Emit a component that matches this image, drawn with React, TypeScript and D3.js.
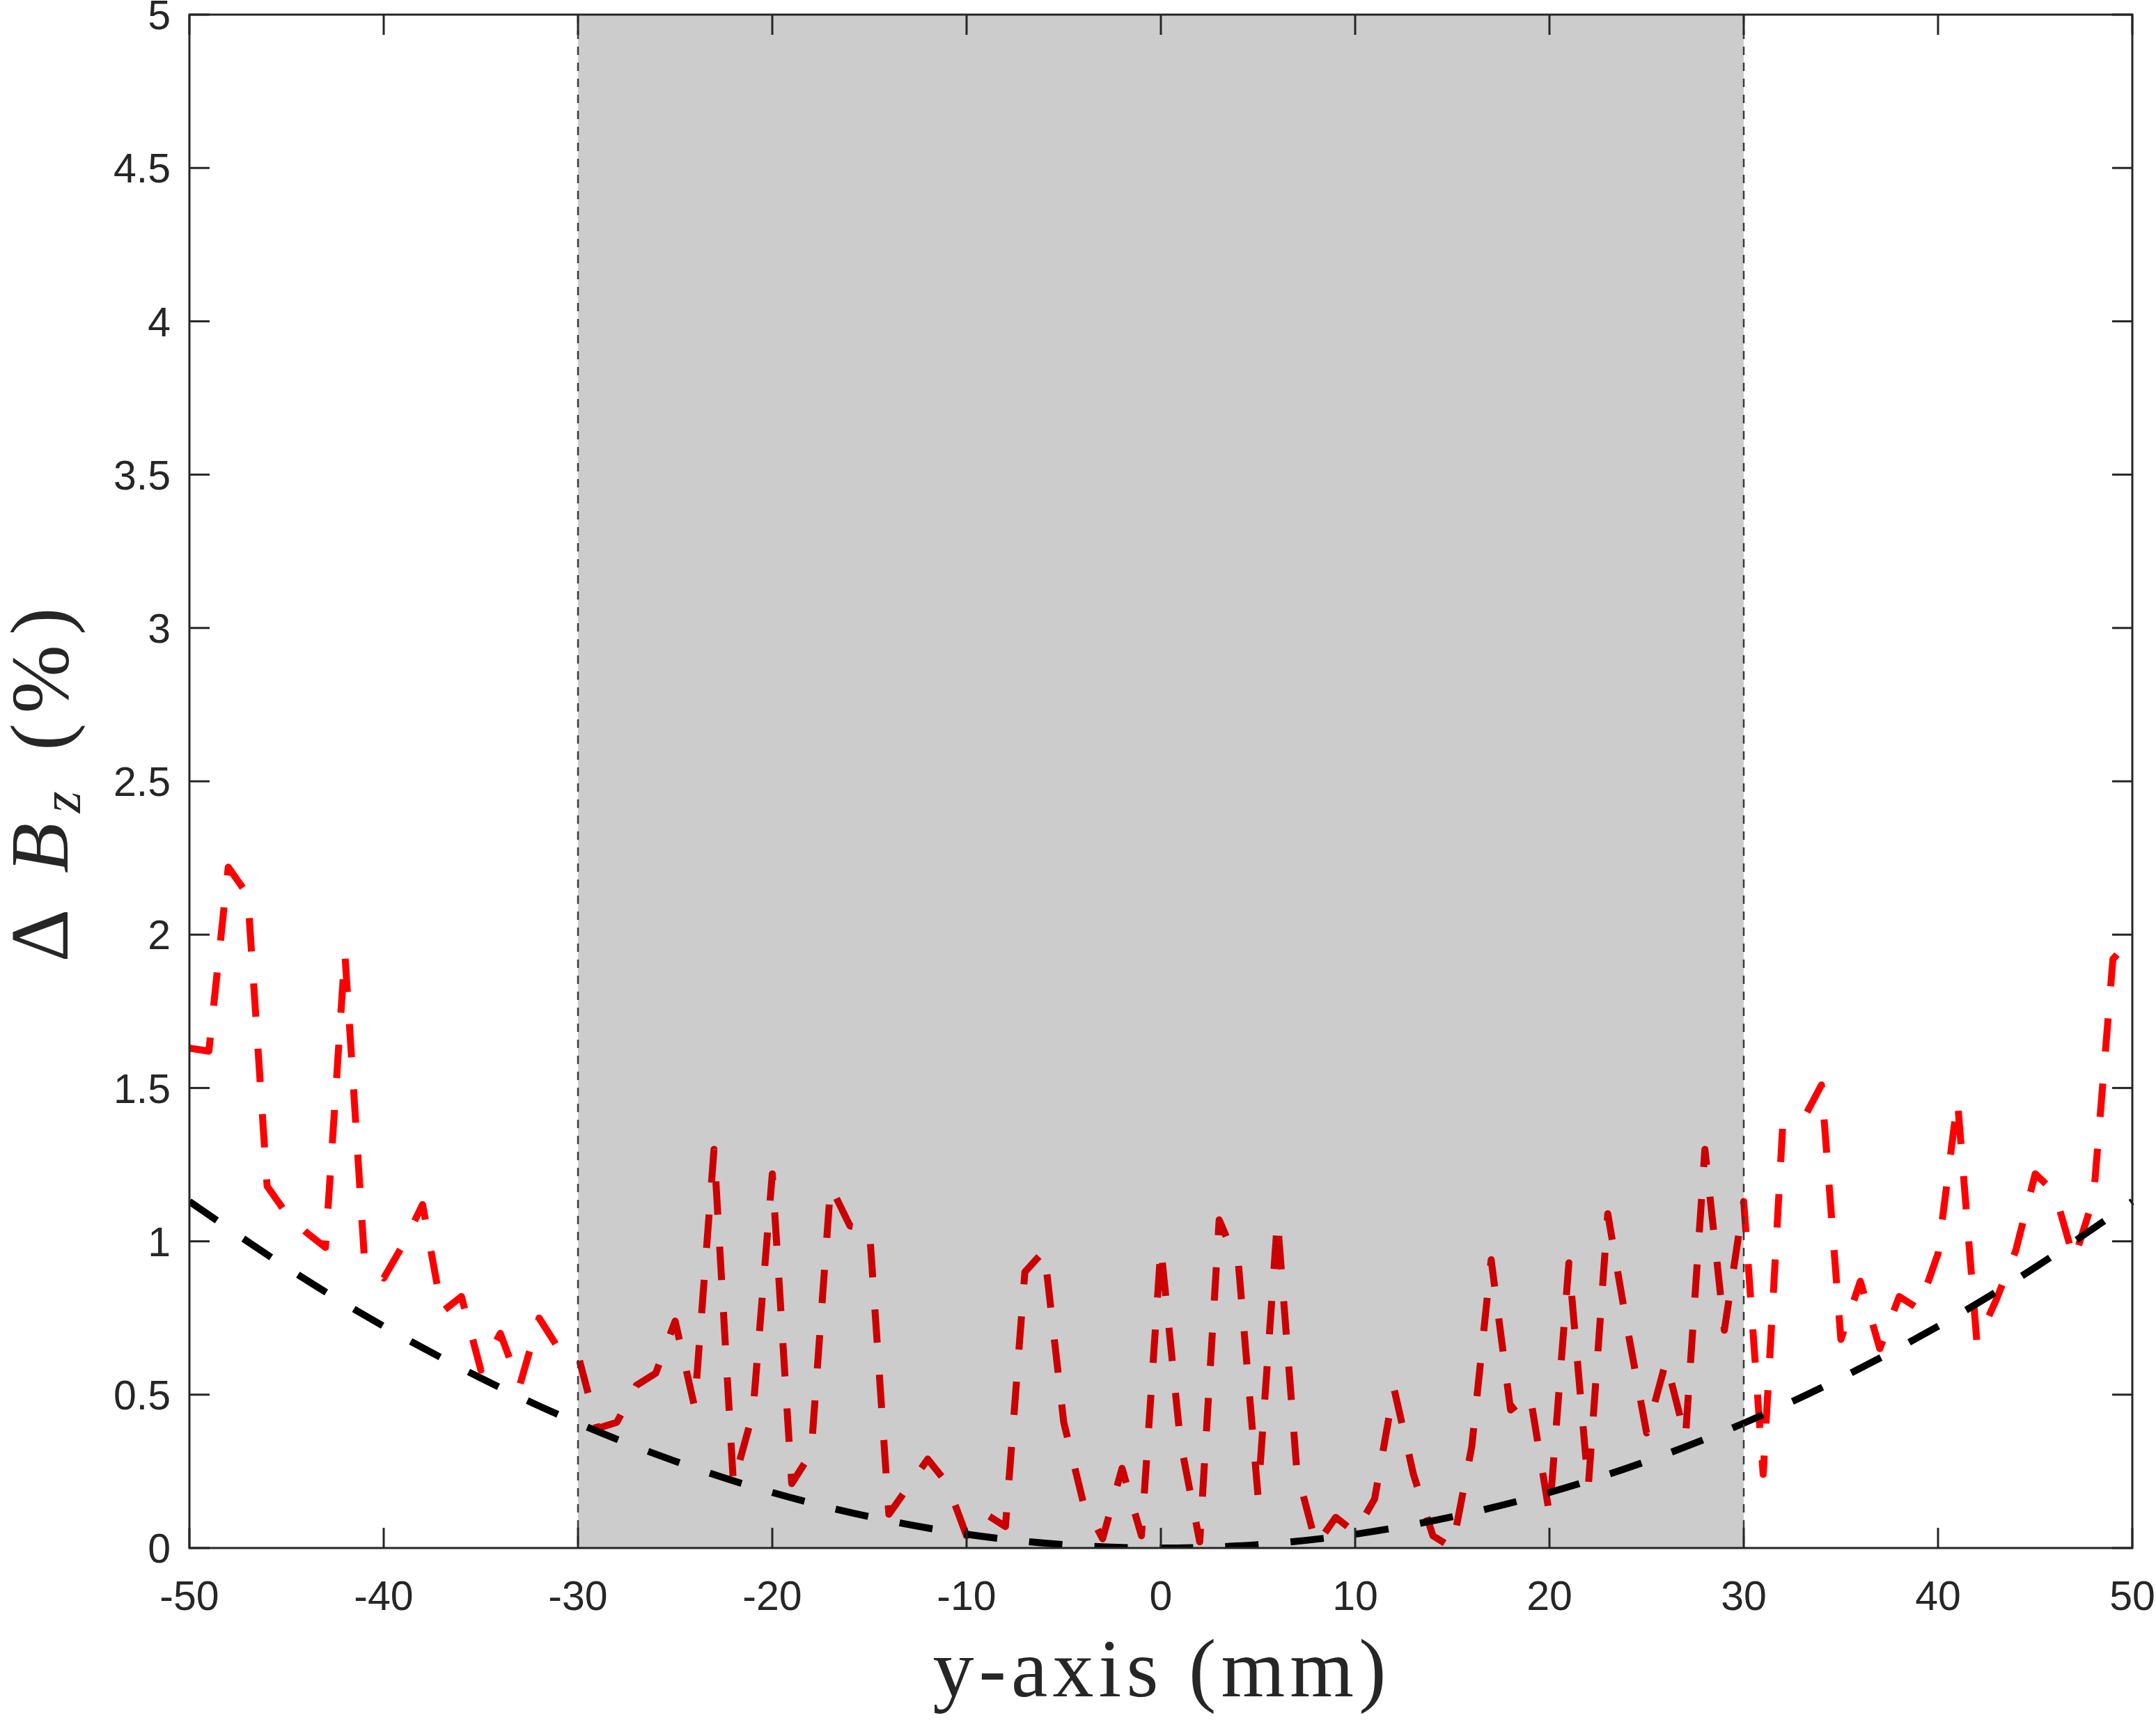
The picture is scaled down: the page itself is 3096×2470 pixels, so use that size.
import * as d3 from 'd3'

const WIDTH = 3096
const HEIGHT = 2470

// measured field deviation (red) sampled every 1 mm
const RED_X = d3.range(-50, 51)
const RED_Y = [
  1.63, 1.62, 2.22, 2.13, 1.18, 1.09, 1.03, 0.98, 1.94, 0.95,
  0.88, 0.99, 1.12, 0.77, 0.82, 0.58, 0.70, 0.53, 0.75, 0.65,
  0.63, 0.39, 0.41, 0.53, 0.57, 0.74, 0.46, 1.30, 0.21, 0.44,
  1.22, 0.21, 0.31, 1.18, 1.05, 1.04, 0.11, 0.20, 0.29, 0.21,
  0.04, 0.11, 0.07, 0.90, 0.97, 0.41, 0.15, 0.03, 0.26, 0.04,
  0.98, 0.35, 0.02, 1.07, 0.92, 0.17, 1.07, 0.25, 0.01, 0.10,
  0.05, 0.16, 0.52, 0.24, 0.04, 0.00, 0.33, 0.94, 0.45, 0.50,
  0.11, 0.93, 0.20, 1.09, 0.72, 0.375, 0.61, 0.36, 1.30, 0.71,
  1.13, 0.24, 1.37, 1.39, 1.51, 0.68, 0.87, 0.65, 0.82, 0.78,
  0.96, 1.46, 0.67, 0.81, 0.97, 1.22, 1.16, 0.94, 1.14, 1.92,
  1.99,
]

// fitted curve (black) every 5 mm
const FIT_X = [-50, -45, -40, -35, -30, -25, -20, -15, -10, -5, 0, 5, 10, 15, 20, 25, 30, 35, 40, 45, 50]
const FIT_Y = [
  1.13, 0.915, 0.723, 0.554, 0.407, 0.283, 0.181, 0.102, 0.045, 0.011, 0,
  0.011, 0.045, 0.102, 0.181, 0.283, 0.407, 0.554, 0.723, 0.915, 1.13,
]

const REGION = [-30, 30]
const X_TICKS = [-50, -40, -30, -20, -10, 0, 10, 20, 30, 40, 50]
const Y_TICKS = [0, 0.5, 1, 1.5, 2, 2.5, 3, 3.5, 4, 4.5, 5]

const AXIS_COLOR = '#262626'
const TICK_LEN = 29

export default function App() {
  const m = { l: 272, r: 3062, t: 21, b: 2223 }

  const x = d3.scaleLinear().domain([-50, 50]).range([m.l, m.r])
  const y = d3.scaleLinear().domain([0, 5]).range([m.b, m.t])

  const redLine = d3
    .line<number>()
    .x((_, i) => x(RED_X[i]))
    .y(d => y(d))
  const fitLine = d3
    .line<number>()
    .x((_, i) => x(FIT_X[i]))
    .y(d => y(d))
    .curve(d3.curveNatural)

  return (
    <div style={{ position: 'absolute', left: 0, top: 0, background: '#fff' }}>
      <svg width={WIDTH} height={HEIGHT} style={{ display: 'block' }}>
        <rect width={WIDTH} height={HEIGHT} fill="#fff" />
        <defs>
          <clipPath id="plot">
            <rect x={m.l} y={m.t - 10} width={m.r - m.l + 10} height={m.b - m.t + 10} />
          </clipPath>
        </defs>

        <g clipPath="url(#plot)">
          <path
            d={redLine(RED_Y) ?? ''}
            fill="none"
            stroke="#ff0000"
            strokeWidth={10}
            strokeDasharray="48 46"
            strokeLinejoin="round"
          />
          <path
            d={fitLine(FIT_Y) ?? ''}
            fill="none"
            stroke="#000"
            strokeWidth={10}
            strokeDasharray="48 46"
          />
        </g>

        {/* shaded region */}
        <rect
          x={x(REGION[0])}
          y={m.t}
          width={x(REGION[1]) - x(REGION[0])}
          height={m.b - m.t}
          fill="#000"
          fillOpacity={0.2}
        />
        {REGION.map(v => (
          <line
            key={v}
            x1={x(v)}
            x2={x(v)}
            y1={m.t}
            y2={m.b}
            stroke="#3a3a3a"
            strokeWidth={2.5}
            strokeDasharray="12 11"
          />
        ))}

        {/* ticks */}
        {X_TICKS.map(t => (
          <g key={'x' + t}>
            <line x1={x(t)} x2={x(t)} y1={m.b} y2={m.b - TICK_LEN} stroke={AXIS_COLOR} strokeWidth={3} />
            <line x1={x(t)} x2={x(t)} y1={m.t} y2={m.t + TICK_LEN} stroke={AXIS_COLOR} strokeWidth={3} />
            <text
              x={x(t)}
              y={2312}
              textAnchor="middle"
              fontFamily="'Liberation Sans', Arial, sans-serif"
              fontSize={59}
              fill={AXIS_COLOR}
            >
              {t}
            </text>
          </g>
        ))}
        {Y_TICKS.map(t => (
          <g key={'y' + t}>
            <line x1={m.l} x2={m.l + TICK_LEN} y1={y(t)} y2={y(t)} stroke={AXIS_COLOR} strokeWidth={3} />
            <line x1={m.r} x2={m.r - TICK_LEN} y1={y(t)} y2={y(t)} stroke={AXIS_COLOR} strokeWidth={3} />
            <text
              x={245}
              y={y(t)}
              dy="0.36em"
              textAnchor="end"
              fontFamily="'Liberation Sans', Arial, sans-serif"
              fontSize={59}
              fill={AXIS_COLOR}
            >
              {t}
            </text>
          </g>
        ))}

        {/* axes box */}
        <rect
          x={m.l}
          y={m.t}
          width={m.r - m.l}
          height={m.b - m.t}
          fill="none"
          stroke={AXIS_COLOR}
          strokeWidth={3}
        />

        {/* axis titles */}
        <text
          x={1665}
          y={2436}
          textAnchor="middle"
          fontFamily="'Liberation Serif', 'DejaVu Serif', serif"
          fontSize={118}
          fill={AXIS_COLOR}
          textLength={651}
          lengthAdjust="spacing"
        >
          y-axis (mm)
        </text>
        <text
          transform="translate(97,1127) rotate(-90)"
          textAnchor="middle"
          fontFamily="'Liberation Serif', 'DejaVu Serif', serif"
          fontSize={118}
          fill={AXIS_COLOR}
          textLength={509}
          lengthAdjust="spacing"
        >
          <tspan>Δ </tspan>
          <tspan fontStyle="italic">B</tspan>
          <tspan fontStyle="italic" fontSize={80} dy={18}>z</tspan>
          <tspan dy={-18}> (%)</tspan>
        </text>
      </svg>
    </div>
  )
}
